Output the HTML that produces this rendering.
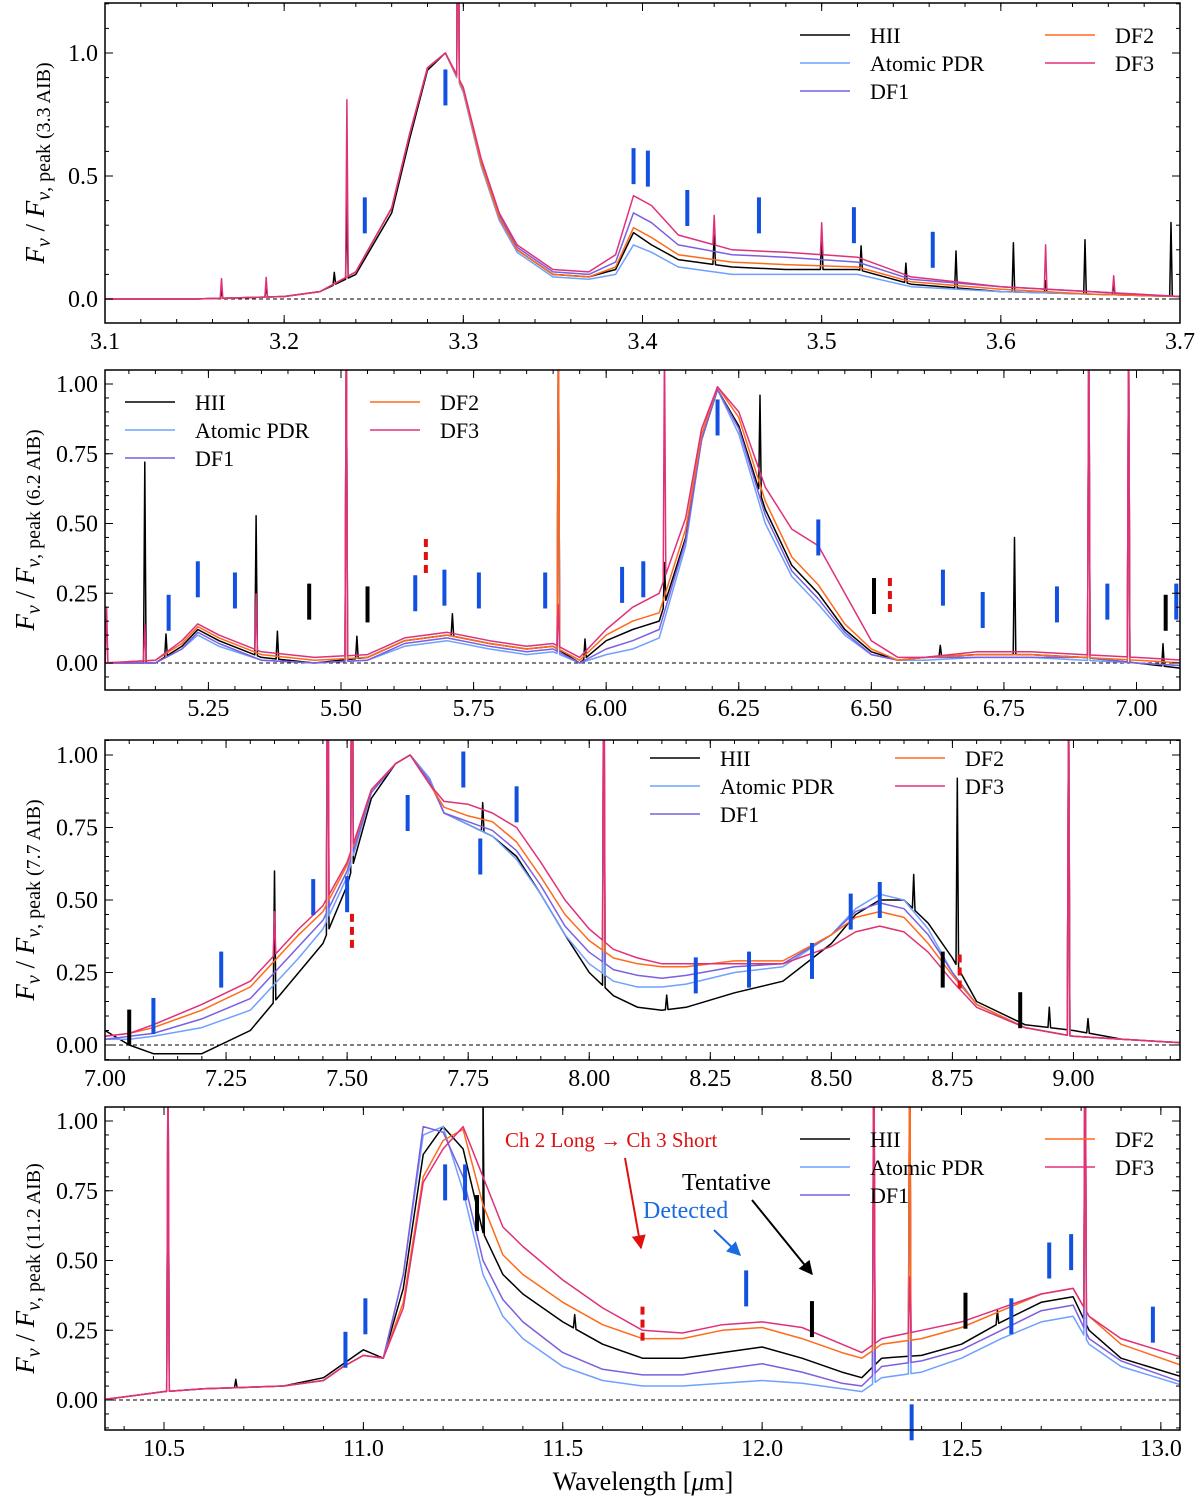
<!DOCTYPE html>
<html><head><meta charset="utf-8"><style>
body{margin:0;background:#fff}
svg text{font-family:"Liberation Serif",serif}
</style></head><body>
<svg id="c" width="1200" height="1501" viewBox="0 0 1200 1501" xmlns="http://www.w3.org/2000/svg"></svg>
<script>
const seriesNames=["HII","Atomic PDR","DF1","DF2","DF3"];
const seriesColors=["#000000","#6fa0ff","#7b5fe0","#ff6a1a","#e0307a"];

// Panel 1 (3.3 AIB)
const p1W=[3.10,3.15,3.20,3.22,3.24,3.26,3.27,3.28,3.29,3.30,3.31,3.32,3.33,3.35,3.37,3.385,3.395,3.405,3.42,3.45,3.48,3.52,3.55,3.60,3.65,3.70];
const p1HII=[0,0,0.01,0.03,0.10,0.35,0.65,0.93,1.0,0.85,0.55,0.33,0.20,0.10,0.09,0.12,0.27,0.22,0.16,0.13,0.12,0.12,0.06,0.03,0.02,0.01];
const p1PDR=[0,0,0.01,0.03,0.11,0.37,0.67,0.94,1.0,0.84,0.54,0.32,0.19,0.09,0.08,0.10,0.22,0.19,0.13,0.10,0.10,0.10,0.05,0.03,0.02,0.01];
const p1DF1=[0,0,0.01,0.03,0.11,0.37,0.67,0.94,1.0,0.85,0.56,0.34,0.21,0.11,0.10,0.15,0.35,0.31,0.22,0.18,0.17,0.15,0.08,0.05,0.03,0.01];
const p1DF2=[0,0,0.01,0.03,0.11,0.37,0.67,0.94,1.0,0.85,0.55,0.33,0.20,0.10,0.09,0.13,0.29,0.25,0.18,0.15,0.14,0.13,0.07,0.04,0.02,0.01];
const p1DF3=[0,0,0.01,0.03,0.11,0.37,0.67,0.94,1.0,0.86,0.57,0.35,0.22,0.12,0.11,0.18,0.42,0.38,0.26,0.20,0.19,0.17,0.09,0.05,0.03,0.01];
const p1LinesHII=[[3.165,0.03],[3.19,0.04],[3.228,0.05],[3.235,0.3],[3.297,1.2],[3.44,0.12],[3.50,0.15],[3.522,0.1],[3.547,0.08],[3.575,0.15],[3.607,0.2],[3.625,0.05],[3.647,0.22],[3.663,0.05],[3.695,0.3]];
const p1LinesDF3=[[3.165,0.08],[3.19,0.08],[3.235,0.72],[3.297,1.2],[3.44,0.12],[3.50,0.13],[3.625,0.18],[3.663,0.07]];
const p1Blue=[[3.29,0.86],[3.245,0.34],[3.395,0.54],[3.403,0.53],[3.425,0.37],[3.465,0.34],[3.518,0.30],[3.562,0.20]];

// Panel 2 (6.2 AIB)
const p2W=[5.055,5.15,5.20,5.23,5.27,5.35,5.45,5.55,5.62,5.70,5.78,5.85,5.90,5.95,6.00,6.05,6.10,6.15,6.18,6.21,6.25,6.30,6.35,6.40,6.45,6.50,6.55,6.60,6.70,6.80,6.90,7.00,7.09];
const p2HII=[0,0,0.06,0.12,0.08,0.02,0,0.02,0.08,0.10,0.07,0.05,0.06,0,0.08,0.12,0.15,0.45,0.80,0.98,0.85,0.55,0.35,0.25,0.12,0.04,0.01,0.02,0.03,0.03,0.02,0,-0.02];
const p2PDR=[0,0,0.05,0.10,0.06,0.01,0,0.01,0.06,0.08,0.05,0.03,0.04,0,0.03,0.05,0.09,0.42,0.80,0.98,0.82,0.50,0.31,0.21,0.10,0.03,0.01,0.01,0.02,0.02,0.01,0,-0.01];
const p2DF1=[0,0,0.05,0.11,0.07,0.01,0,0.01,0.07,0.09,0.06,0.04,0.05,0,0.05,0.08,0.12,0.44,0.80,0.98,0.84,0.53,0.33,0.23,0.11,0.03,0.01,0.02,0.02,0.02,0.02,0,-0.01];
const p2DF2=[0,0.01,0.07,0.13,0.09,0.03,0.01,0.02,0.08,0.10,0.07,0.05,0.06,0.01,0.10,0.15,0.18,0.48,0.82,0.99,0.88,0.58,0.38,0.28,0.14,0.05,0.01,0.02,0.03,0.03,0.02,0.01,0];
const p2DF3=[0,0.01,0.08,0.14,0.10,0.04,0.02,0.03,0.09,0.11,0.08,0.06,0.07,0.02,0.12,0.20,0.25,0.52,0.84,0.99,0.90,0.63,0.48,0.42,0.25,0.08,0.02,0.02,0.04,0.04,0.03,0.02,0.01];
const p2LinesHII=[[5.13,0.72],[5.17,0.08],[5.34,0.5],[5.38,0.1],[5.51,1.2],[5.53,0.08],[5.71,0.08],[5.91,1.2],[5.96,0.07],[6.11,0.15],[6.29,0.35],[6.63,0.04],[6.77,0.42],[6.91,1.2],[6.985,1.2],[7.05,0.08]];
const p2LinesDF3=[[5.058,0.2],[5.13,0.13],[5.34,0.2],[5.51,1.2],[5.91,0.15],[6.11,0.85],[6.91,1.2],[6.985,1.2]];
const p2Blue=[[5.175,0.18],[5.23,0.30],[5.30,0.26],[5.64,0.25],[5.695,0.27],[5.76,0.26],[5.885,0.26],[6.03,0.28],[6.07,0.30],[6.21,0.88],[6.40,0.45],[6.635,0.27],[6.71,0.19],[6.85,0.21],[6.945,0.22],[7.075,0.22]];
const p2Black=[[5.44,0.22],[5.55,0.21],[6.505,0.24],[7.055,0.18]];
const p2Red=[[5.66,0.38],[6.535,0.24]];

// Panel 3 (7.7 AIB)
const p3W=[7.0,7.05,7.1,7.2,7.3,7.4,7.45,7.5,7.55,7.6,7.63,7.67,7.70,7.75,7.80,7.85,7.9,7.95,8.0,8.05,8.1,8.15,8.2,8.3,8.4,8.5,8.55,8.6,8.65,8.7,8.75,8.8,8.9,9.0,9.1,9.2,9.33];
const p3HII=[0.05,0.0,-0.03,-0.03,0.05,0.25,0.35,0.55,0.85,0.97,1.0,0.92,0.80,0.76,0.72,0.65,0.52,0.38,0.25,0.17,0.13,0.12,0.13,0.18,0.22,0.35,0.45,0.50,0.50,0.42,0.30,0.15,0.07,0.05,0.02,0.01,0];
const p3PDR=[0.02,0.02,0.03,0.06,0.12,0.30,0.40,0.58,0.87,0.97,1.0,0.92,0.80,0.76,0.72,0.64,0.52,0.38,0.28,0.22,0.20,0.20,0.21,0.25,0.27,0.38,0.47,0.52,0.50,0.40,0.25,0.14,0.06,0.03,0.02,0.01,0];
const p3DF1=[0.02,0.03,0.04,0.09,0.16,0.34,0.43,0.60,0.87,0.97,1.0,0.91,0.80,0.77,0.74,0.67,0.55,0.41,0.32,0.26,0.24,0.23,0.24,0.27,0.28,0.38,0.46,0.49,0.47,0.38,0.25,0.14,0.06,0.03,0.02,0.01,0];
const p3DF2=[0.03,0.04,0.06,0.12,0.20,0.38,0.46,0.62,0.88,0.97,1.0,0.90,0.82,0.79,0.77,0.70,0.58,0.45,0.36,0.30,0.28,0.27,0.27,0.29,0.29,0.38,0.44,0.46,0.44,0.35,0.24,0.14,0.06,0.03,0.02,0.01,0];
const p3DF3=[0.03,0.04,0.07,0.14,0.22,0.40,0.48,0.63,0.88,0.97,1.0,0.90,0.84,0.83,0.80,0.75,0.63,0.50,0.40,0.33,0.30,0.28,0.28,0.28,0.28,0.34,0.39,0.41,0.39,0.32,0.22,0.13,0.06,0.03,0.02,0.01,0];
const p3LinesHII=[[7.35,0.45],[7.46,1.2],[7.51,1.2],[7.78,0.1],[8.03,1.2],[8.16,0.05],[8.67,0.12],[8.76,0.65],[8.95,0.07],[8.99,1.2],[9.03,0.05]];
const p3LinesDF3=[[7.35,0.15],[7.46,1.2],[7.51,1.2],[8.03,1.2],[8.99,1.2]];
const p3Blue=[[7.10,0.10],[7.24,0.26],[7.43,0.51],[7.50,0.52],[7.625,0.80],[7.74,0.95],[7.775,0.65],[7.85,0.83],[8.22,0.24],[8.33,0.26],[8.46,0.29],[8.54,0.46],[8.60,0.50]];
const p3Black=[[7.05,0.06],[8.73,0.26],[8.89,0.12]];
const p3Red=[[7.51,0.39],[8.765,0.25]];

// Panel 4 (11.2 AIB)
const p4W=[10.34,10.5,10.6,10.8,10.9,10.95,11.0,11.05,11.1,11.15,11.2,11.25,11.3,11.35,11.4,11.5,11.6,11.7,11.8,11.9,12.0,12.1,12.2,12.25,12.3,12.4,12.5,12.6,12.7,12.78,12.82,12.9,13.06];
const p4HII=[0,0.03,0.04,0.05,0.08,0.13,0.18,0.15,0.40,0.88,0.98,0.90,0.60,0.45,0.38,0.28,0.20,0.15,0.15,0.17,0.19,0.15,0.10,0.08,0.15,0.16,0.20,0.28,0.35,0.37,0.25,0.15,0.08];
const p4PDR=[0,0.03,0.04,0.05,0.07,0.12,0.16,0.15,0.45,0.95,0.98,0.75,0.45,0.30,0.22,0.12,0.07,0.05,0.05,0.06,0.07,0.06,0.04,0.03,0.08,0.10,0.15,0.22,0.28,0.30,0.20,0.12,0.05];
const p4DF1=[0,0.03,0.04,0.05,0.07,0.12,0.16,0.15,0.45,0.98,0.96,0.80,0.50,0.36,0.28,0.17,0.11,0.09,0.09,0.11,0.13,0.10,0.06,0.05,0.12,0.14,0.18,0.25,0.32,0.34,0.22,0.14,0.06];
const p4DF2=[0,0.03,0.04,0.05,0.07,0.12,0.16,0.15,0.35,0.80,0.93,0.97,0.70,0.52,0.45,0.35,0.27,0.22,0.22,0.25,0.26,0.22,0.17,0.15,0.20,0.22,0.26,0.32,0.38,0.40,0.30,0.20,0.12];
const p4DF3=[0,0.03,0.04,0.05,0.07,0.12,0.16,0.15,0.33,0.78,0.90,0.98,0.80,0.62,0.55,0.43,0.33,0.25,0.24,0.27,0.28,0.26,0.20,0.17,0.22,0.25,0.28,0.33,0.38,0.40,0.30,0.22,0.15];
const p4LinesHII=[[10.51,1.2],[10.68,0.03],[11.3,0.5],[11.53,0.05],[12.28,1.2],[12.37,1.2],[12.59,0.05],[12.81,1.2]];
const p4LinesDF3=[[10.51,1.2],[12.28,1.2],[12.37,0.2],[12.81,1.2]];
const p4Blue=[[10.955,0.18],[11.005,0.30],[11.205,0.78],[11.255,0.78],[11.96,0.40],[12.375,-0.08],[12.625,0.30],[12.72,0.50],[12.775,0.53],[12.98,0.27]];
const p4Black=[[11.285,0.67],[12.125,0.29],[12.51,0.32]];
const p4Red=[[11.70,0.27]];

const p1XTicks=[3.1,3.2,3.3,3.4,3.5,3.6,3.7], p1YTicks=[0.0,0.5,1.0];
const p2XTicks=[5.25,5.50,5.75,6.00,6.25,6.50,6.75,7.00], p2YTicks=[0,0.25,0.5,0.75,1.0];
const p3XTicks=[7.00,7.25,7.50,7.75,8.00,8.25,8.50,8.75,9.00], p3YTicks=[0,0.25,0.5,0.75,1.0];
const p4XTicks=[10.5,11.0,11.5,12.0,12.5,13.0], p4YTicks=[0,0.25,0.5,0.75,1.0];

const NS="http://www.w3.org/2000/svg";
const svg=document.getElementById('c');
function mk(tag,attrs,parent){const e=document.createElementNS(NS,tag);for(const k in attrs)e.setAttribute(k,attrs[k]);(parent||svg).appendChild(e);return e;}

const panels=[
 {id:1,x0:105,x1:1180,yT:3,yB:323,xmin:3.1,xmax:3.7,y0px:299,y1px:53,W:p1W,S:[p1HII,p1PDR,p1DF1,p1DF2,p1DF3],LH:p1LinesHII,LD:p1LinesDF3,blue:p1Blue,black:[],red:[],xt:p1XTicks,yt:p1YTicks,xd:1,yd:1,xminor:0.02,yminor:0.1,lab:"3.3 AIB",leg:[800,35,1045],lx:38},
 {id:2,x0:105,x1:1180,yT:370,yB:690,xmin:5.055,xmax:7.082,y0px:663,y1px:384,W:p2W,S:[p2HII,p2PDR,p2DF1,p2DF2,p2DF3],LH:p2LinesHII,LD:p2LinesDF3,blue:p2Blue,black:p2Black,red:p2Red,xt:p2XTicks,yt:p2YTicks,xd:2,yd:2,xminor:0.05,yminor:0.05,lab:"6.2 AIB",leg:[125,402,370],lx:28},
 {id:3,x0:105,x1:1180,yT:740,yB:1060,xmin:7.0,xmax:9.22,y0px:1045,y1px:755,W:p3W,S:[p3HII,p3PDR,p3DF1,p3DF2,p3DF3],LH:p3LinesHII,LD:p3LinesDF3,blue:p3Blue,black:p3Black,red:p3Red,xt:p3XTicks,yt:p3YTicks,xd:2,yd:2,xminor:0.05,yminor:0.05,lab:"7.7 AIB",leg:[650,758,895],lx:28},
 {id:4,x0:105,x1:1180,yT:1107,yB:1430,xmin:10.352,xmax:13.048,y0px:1400,y1px:1121,W:p4W,S:[p4HII,p4PDR,p4DF1,p4DF2,p4DF3],LH:p4LinesHII,LD:p4LinesDF3,blue:p4Blue,black:p4Black,red:p4Red,xt:p4XTicks,yt:p4YTicks,xd:1,yd:2,xminor:0.1,yminor:0.05,lab:"11.2 AIB",leg:[800,1139,1045],lx:28}
];

function interp(W,V,w){if(w<=W[0])return V[0];for(let i=1;i<W.length;i++){if(w<=W[i]){const t=(w-W[i-1])/(W[i]-W[i-1]);return V[i-1]+t*(V[i]-V[i-1]);}}return V[V.length-1];}

panels.forEach(p=>{
  const sx=w=>p.x0+(w-p.xmin)/(p.xmax-p.xmin)*(p.x1-p.x0);
  const sy=v=>p.y0px+(p.y1px-p.y0px)*v;
  const g=mk('g',{});
  
  
  const cp=mk('clipPath',{id:'clip'+p.id},g);
  mk('rect',{x:p.x0,y:p.yT,width:p.x1-p.x0,height:p.yB-p.yT},cp);
  const z=mk('line',{x1:p.x0,x2:p.x1,y1:sy(0),y2:sy(0),stroke:'#000','stroke-width':1,'stroke-dasharray':'4,3'},g);
  
  
  const dw=1.3*(p.xmax-p.xmin)/(p.x1-p.x0);
  p.S.forEach((vals,si)=>{
    let pts=p.W.map((w,i)=>[w,vals[i]]);
    const lines = si===0?p.LH:(si===4?p.LD:p.LD.filter(l=>l[1]>=1).concat(p.LH.filter(l=>l[1]>=1)));
    lines.forEach(l=>{const b=interp(p.W,vals,l[0]);pts.push([l[0]-dw,interp(p.W,vals,l[0]-dw)]);pts.push([l[0],b+l[1]]);pts.push([l[0]+dw,interp(p.W,vals,l[0]+dw)]);});
    pts.sort((a,b)=>a[0]-b[0]);
    const pl=mk('polyline',{points:pts.map(q=>sx(q[0]).toFixed(1)+','+sy(q[1]).toFixed(1)).join(' '),fill:'none',stroke:seriesColors[si],'stroke-width':1.5,'clip-path':'url(#clip'+p.id+')','stroke-linejoin':'round'},g);
    
    
  });
  const drawMk=(arr,col,dash,nm)=>arr.forEach(m=>{
    const l=mk('line',{x1:sx(m[0]),x2:sx(m[0]),y1:sy(m[1])-18,y2:sy(m[1])+18,stroke:col,'stroke-width':4,'stroke-dasharray':dash},g);
    
    
  });
  drawMk(p.blue,'#1150e0','none','detected-marker');
  drawMk(p.black,'#000','none','tentative-marker');
  drawMk(p.red,'#e01010','8,5','channel-boundary-marker');
  const fr=mk('rect',{x:p.x0,y:p.yT,width:p.x1-p.x0,height:p.yB-p.yT,fill:'none',stroke:'#000','stroke-width':1.5},g);
  
  
  const tk=(x1,y1,x2,y2)=>mk('line',{x1,y1,x2,y2,stroke:'#000','stroke-width':1},g);
  for(let w=Math.ceil(p.xmin/p.xminor-1e-6)*p.xminor;w<=p.xmax+1e-9;w+=p.xminor){const x=sx(w);tk(x,p.yB,x,p.yB-4);tk(x,p.yT,x,p.yT+4);}
  for(let v=Math.ceil(((p.yB-p.y0px)/(p.y1px-p.y0px))/p.yminor)*p.yminor;sy(v)>=p.yT;v+=p.yminor){const y=sy(v);tk(p.x0,y,p.x0+4,y);tk(p.x1,y,p.x1-4,y);}
  p.xt.forEach(w=>{const x=sx(w);tk(x,p.yB,x,p.yB-8);tk(x,p.yT,x,p.yT+8);
    const t=mk('text',{x:x,y:p.yB+26,'font-size':24,'text-anchor':'middle'},g);t.textContent=w.toFixed(p.xd);
    });
  p.yt.forEach(v=>{const y=sy(v);tk(p.x0,y,p.x0+8,y);tk(p.x1,y,p.x1-8,y);
    const t=mk('text',{x:p.x0-7,y:y+8,'font-size':24,'text-anchor':'end'},g);t.textContent=v.toFixed(p.yd);
    });
  const cy=(p.yT+p.yB)/2;
  const yl=mk('text',{x:0,y:0,'font-size':27,'text-anchor':'middle',transform:`translate(${p.lx+6},${cy}) rotate(-90)`},g);
  
  
  yl.innerHTML=`<tspan font-style="italic">F</tspan><tspan font-style="italic" font-size="20" dy="6">ν</tspan><tspan dy="-6"> / </tspan><tspan font-style="italic">F</tspan><tspan font-size="20" dy="6"><tspan font-style="italic">ν</tspan>, peak (${p.lab})</tspan>`;
  const [lx,ly,lx2]=p.leg;
  seriesNames.forEach((n,i)=>{
    const col=i<3?0:1, row=i<3?i:i-3;
    const x=col?lx2:lx, y=ly+row*28;
    const e=mk('g',{},g);
    
    
    mk('line',{x1:x,x2:x+50,y1:y,y2:y,stroke:seriesColors[i],'stroke-width':1.5},e);
    const t=mk('text',{x:x+70,y:y+8,'font-size':22},e);t.textContent=n;
  });
});

const xt=mk('text',{x:643,y:1490,'font-size':26,'text-anchor':'middle'});


xt.innerHTML='Wavelength [<tspan font-style="italic">μ</tspan>m]';

const defs=mk('defs',{});
[['ar','#e01010'],['ab','#1a6ae0'],['ak','#000']].forEach(a=>{const m=mk('marker',{id:a[0],viewBox:'0 0 10 10',refX:9,refY:5,markerWidth:7,markerHeight:7,orient:'auto'},defs);mk('path',{d:'M0,0 L10,5 L0,10 z',fill:a[1]},m);});
const an=mk('g',{});


let t=mk('text',{x:505,y:1147,'font-size':21,fill:'#e01010'},an);t.textContent='Ch 2 Long → Ch 3 Short';

mk('line',{x1:625,y1:1158,x2:641,y2:1248,stroke:'#e01010','stroke-width':2,'marker-end':'url(#ar)'},an);
t=mk('text',{x:682,y:1190,'font-size':24,fill:'#000'},an);t.textContent='Tentative';

mk('line',{x1:752,y1:1200,x2:812,y2:1274,stroke:'#000','stroke-width':2,'marker-end':'url(#ak)'},an);
t=mk('text',{x:643,y:1218,'font-size':24,fill:'#1a6ae0'},an);t.textContent='Detected';

mk('line',{x1:714,y1:1230,x2:740,y2:1255,stroke:'#1a6ae0','stroke-width':2,'marker-end':'url(#ab)'},an);
</script>
</body></html>
